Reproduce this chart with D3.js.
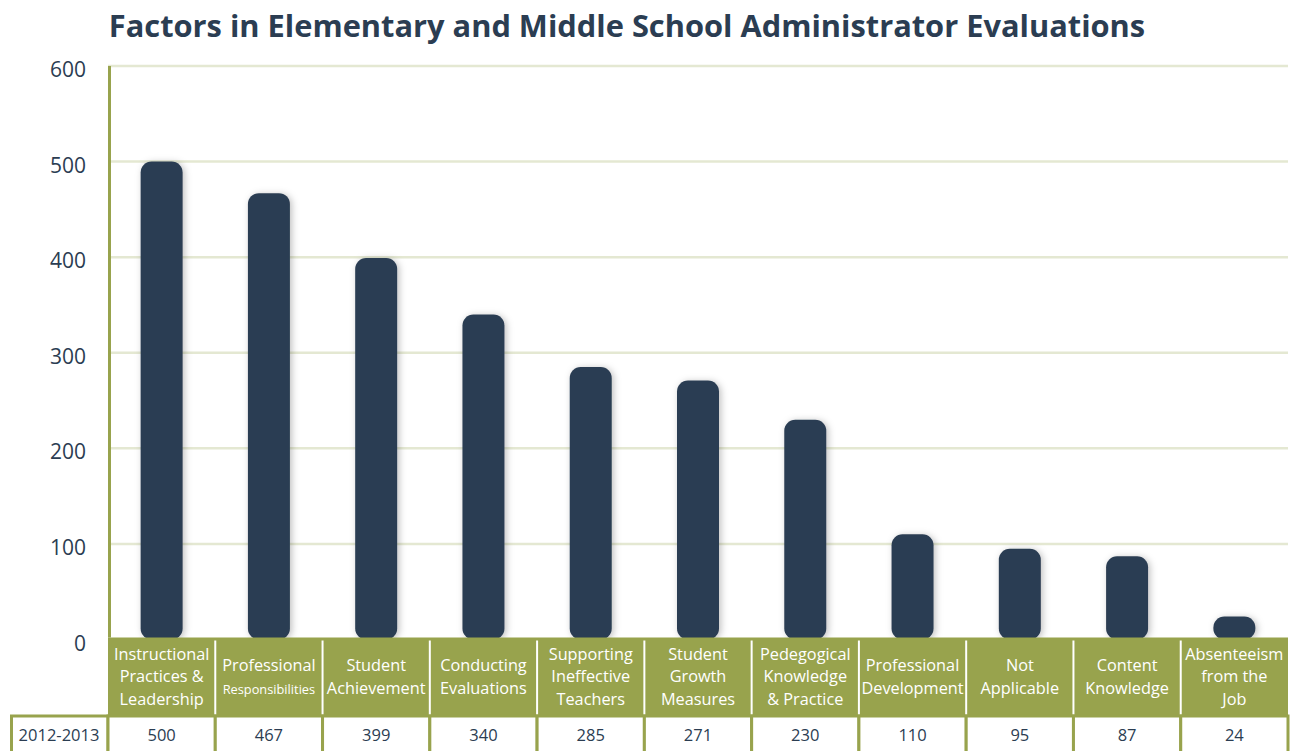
<!DOCTYPE html>
<html>
<head>
<meta charset="utf-8">
<script src="https://cdn.jsdelivr.net/npm/d3@7"></script>
<style>
  html, body { margin: 0; padding: 0; background: #fff; }
  svg { display: block; }
  text { font-family: "Open Sans", Lato, sans-serif; }
</style>
</head>
<body>
<svg id="chart" width="1294" height="751"></svg>
<script>
// Evaluation factors (each label split into lines) and their counts
const categories = [
  ["Instructional", "Practices &", "Leadership"],
  ["Professional", "Responsibilities"],
  ["Student", "Achievement"],
  ["Conducting", "Evaluations"],
  ["Supporting", "Ineffective", "Teachers"],
  ["Student", "Growth", "Measures"],
  ["Pedegogical", "Knowledge", "& Practice"],
  ["Professional", "Development"],
  ["Not", "Applicable"],
  ["Content", "Knowledge"],
  ["Absenteeism", "from the", "Job"]
];
const seriesName = "2012-2013";
const values = [500, 467, 399, 340, 285, 271, 230, 110, 95, 87, 24];
const yTicks = [0, 100, 200, 300, 400, 500, 600];

const navy = "#2b3d52";
const green = "#98a34d";
const gridColor = "#e4e8d2";

const svg = d3.select("#chart");
const plotLeft = 108, plotRight = 1288, plotTop = 66, plotBottom = 639.5;
const bandTop = 637.5, bandBottom = 716, rowBottom = 751;

const x = d3.scaleBand().domain(d3.range(categories.length)).range([plotLeft, plotRight]).paddingInner(0).paddingOuter(0);
const y = d3.scaleLinear().domain([0, 600]).range([plotBottom, plotTop]);

// Soft shadow under bars
const defs = svg.append("defs");
const f = defs.append("filter").attr("id", "shadow").attr("x", "-30%").attr("y", "-10%").attr("width", "160%").attr("height", "130%");
f.append("feDropShadow").attr("dx", 2).attr("dy", 1).attr("stdDeviation", 3.5).attr("flood-color", "#000").attr("flood-opacity", 0.25);

// Title
svg.append("text")
  .attr("x", 627).attr("y", 37)
  .attr("text-anchor", "middle")
  .attr("font-size", 30.8).attr("font-weight", 700)
  .attr("fill", navy)
  .text("Factors in Elementary and Middle School Administrator Evaluations");

// Gridlines
svg.append("g").selectAll("line").data(yTicks.filter(d => d > 0)).join("line")
  .attr("x1", plotLeft).attr("x2", plotRight)
  .attr("y1", d => y(d)).attr("y2", d => y(d))
  .attr("stroke", gridColor).attr("stroke-width", 2.5);

// Y axis
const yAxis = svg.append("g")
  .attr("transform", `translate(${plotLeft},0)`)
  .call(d3.axisLeft(y).tickValues(yTicks).tickSize(0).tickPadding(22));
yAxis.select(".domain").remove();
yAxis.selectAll("text").attr("font-size", 21).attr("fill", navy)
  .attr("dy", "0.5em")
  .attr("font-family", "'Open Sans', sans-serif");

svg.append("line")
  .attr("x1", plotLeft + 1.5).attr("x2", plotLeft + 1.5).attr("y1", plotTop).attr("y2", bandTop)
  .attr("stroke", green).attr("stroke-width", 3);

// Bars
const barW = 42;
svg.append("g").attr("filter", "url(#shadow)").selectAll("rect").data(values).join("rect")
  .attr("x", (d, i) => x(i) + x.bandwidth() / 2 - barW / 2)
  .attr("y", d => y(d))
  .attr("width", barW)
  .attr("height", d => plotBottom - y(d))
  .attr("rx", 11).attr("ry", 11)
  .attr("fill", navy);

// Category header band
svg.append("rect")
  .attr("x", plotLeft).attr("y", bandTop).attr("width", plotRight - plotLeft).attr("height", bandBottom - bandTop)
  .attr("fill", green);
svg.append("g").selectAll("line").data(d3.range(1, categories.length)).join("line")
  .attr("x1", i => x(i)).attr("x2", i => x(i))
  .attr("y1", bandTop + 3).attr("y2", bandBottom - 1)
  .attr("stroke", "#fff").attr("stroke-width", 2);

const lineH = 22.5;
const catG = svg.append("g").selectAll("text").data(categories).join("text")
  .attr("text-anchor", "middle")
  .attr("fill", "#fff")
  .attr("font-size", 16.3);
catG.each(function(lines, i) {
  const cx = x(i) + x.bandwidth() / 2;
  const cy = (bandTop + bandBottom) / 2;
  const y0 = cy - (lines.length - 1) * lineH / 2 + 5.5;
  d3.select(this).selectAll("tspan").data(lines).join("tspan")
    .attr("x", cx)
    .attr("y", (l, j) => y0 + j * lineH)
    .attr("font-size", l => l === "Responsibilities" ? 12.8 : 16.3)
    .text(l => l);
});

// Data table row
const rowG = svg.append("g");
rowG.append("rect")
  .attr("x", 11.5).attr("y", bandBottom).attr("width", plotLeft - 11.5).attr("height", rowBottom - bandBottom + 4)
  .attr("fill", "#fff").attr("stroke", green).attr("stroke-width", 3);
rowG.append("text")
  .attr("x", (10 + plotLeft) / 2).attr("y", bandBottom + 25)
  .attr("text-anchor", "middle").attr("font-size", 16.5).attr("fill", navy)
  .text(seriesName);
rowG.selectAll("rect.cell").data(values).join("rect")
  .attr("class", "cell")
  .attr("x", (d, i) => x(i)).attr("y", bandBottom)
  .attr("width", x.bandwidth()).attr("height", rowBottom - bandBottom + 4)
  .attr("fill", "#fff").attr("stroke", green).attr("stroke-width", 3);
rowG.selectAll("text.val").data(values).join("text")
  .attr("class", "val")
  .attr("x", (d, i) => x(i) + x.bandwidth() / 2).attr("y", bandBottom + 25)
  .attr("text-anchor", "middle").attr("font-size", 16.5).attr("fill", navy)
  .text(d => d);
</script>
</body>
</html>
